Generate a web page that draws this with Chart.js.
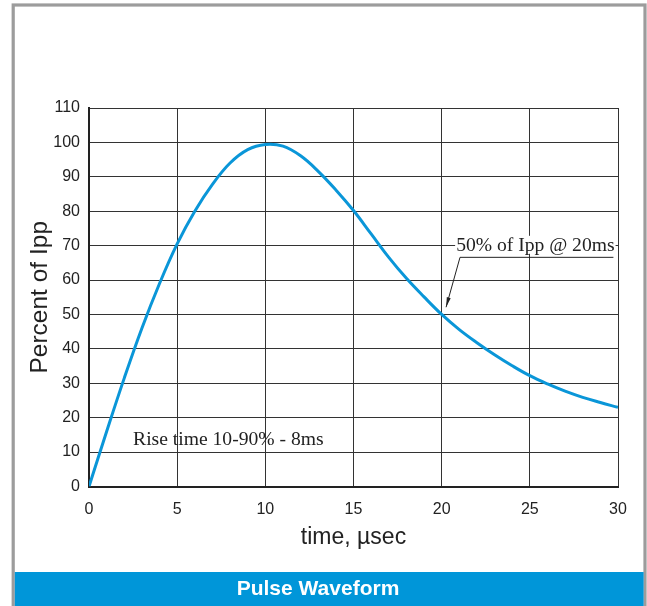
<!DOCTYPE html>
<html>
<head>
<meta charset="utf-8">
<script src="https://cdn.jsdelivr.net/npm/chart.js@4.4.1/dist/chart.umd.min.js"></script>
<style>
  html, body { margin: 0; padding: 0; background: #fff; }
  #wrap { position: relative; width: 647px; height: 606px; }
</style>
</head>
<body>
<div id="wrap"><canvas id="c" width="647" height="606"></canvas></div>
<script>
// ---- data ----
const times   = [0, 1, 2, 3, 4, 5, 6, 7, 8, 9, 10, 11, 12, 13, 14, 15, 16, 17, 18, 19, 20, 21, 22, 23, 24, 25, 26, 27, 28, 29, 30];
const percent = [0, 16, 31.5, 46, 59, 70.5, 80, 87.8, 94, 97.9, 99.4, 98.9, 96.1, 91.6, 86.2, 80.2, 73.4, 66.6, 60.5, 55.1, 50, 45.6, 41.8, 38.3, 35.1, 32.2, 29.8, 27.7, 25.9, 24.4, 23];
const xTicks = [0, 5, 10, 15, 20, 25, 30];
const yTicks = [0, 10, 20, 30, 40, 50, 60, 70, 80, 90, 100, 110];
const xTitle = 'time, \u00b5sec';
const yTitle = 'Percent of Ipp';
const chartTitle = 'Pulse Waveform';
const riseNote = 'Rise time 10-90% - 8ms';
const halfNote = '50% of Ipp @ 20ms';

const points = times.map((t, i) => ({ x: t, y: percent[i] }));

const framePlugin = {
  id: 'frame',
  beforeDraw(chart) {
    const ctx = chart.ctx;
    ctx.save();
    ctx.fillStyle = '#ffffff';
    ctx.fillRect(0, 0, chart.width, chart.height);
    // grey frame
    ctx.strokeStyle = '#9c9c9c';
    ctx.lineWidth = 3.2;
    ctx.strokeRect(13.2, 5, 631.8, 640);
    // blue title bar
    ctx.fillStyle = '#0096d9';
    ctx.fillRect(14.8, 572, 628.8, 40);
    ctx.restore();
  }
};

const notesPlugin = {
  id: 'notes',
  afterDraw(chart) {
    const ctx = chart.ctx;
    const xs = chart.scales.x, ys = chart.scales.y;
    const px = v => xs.getPixelForValue(v);
    const py = v => ys.getPixelForValue(v);
    ctx.save();
    ctx.font = '19.6px "Liberation Serif", "Times New Roman", serif';
    ctx.textBaseline = 'alphabetic';
    ctx.textAlign = 'left';
    ctx.fillStyle = '#222';
    // rise time note
    ctx.fillText(riseNote, px(2.5), py(12.1));
    // 50% note with white background
    const tx = px(20.82), ty = py(68.5);
    const w = ctx.measureText(halfNote).width;
    ctx.fillStyle = '#ffffff';
    ctx.fillRect(tx - 1, ty - 15, w + 2, 18);
    ctx.fillStyle = '#222';
    ctx.fillText(halfNote, tx, ty);
    // underline + leader + arrow
    const ux0 = px(21.04), uy = py(66.6), ux1 = px(29.74);
    const ax = px(20.25), ay = py(52.1);
    ctx.strokeStyle = '#222';
    ctx.lineWidth = 1;
    ctx.beginPath();
    ctx.moveTo(ux1, uy);
    ctx.lineTo(ux0, uy);
    ctx.lineTo(ax, ay);
    ctx.stroke();
    const ang = Math.atan2(ay - uy, ax - ux0);
    const L = 10, hw = 2;
    const bx = ax - L * Math.cos(ang), by = ay - L * Math.sin(ang);
    ctx.fillStyle = '#222';
    ctx.beginPath();
    ctx.moveTo(ax, ay);
    ctx.lineTo(bx + hw * Math.sin(ang), by - hw * Math.cos(ang));
    ctx.lineTo(bx - hw * Math.sin(ang), by + hw * Math.cos(ang));
    ctx.closePath();
    ctx.fill();
    ctx.restore();
  }
};

const tickFont = { family: '"Liberation Sans", Arial, sans-serif', size: 16 };
const titleFont = { family: '"Liberation Sans", Arial, sans-serif', size: 23 };
const yTitleFont = { family: '"Liberation Sans", Arial, sans-serif', size: 24.5 };

new Chart(document.getElementById('c'), {
  type: 'scatter',
  data: {
    datasets: [{
      data: points,
      showLine: true,
      borderColor: '#0a96d8',
      borderWidth: 3,
      pointRadius: 0,
      fill: false,
      tension: 0.4
    }]
  },
  options: {
    responsive: false,
    animation: false,
    devicePixelRatio: 1,
    layout: { padding: { top: 108, left: 18, right: 29, bottom: 0 } },
    plugins: {
      legend: { display: false },
      tooltip: { enabled: false },
      title: {
        display: true,
        position: 'bottom',
        text: chartTitle,
        color: '#ffffff',
        font: { family: '"Liberation Sans", Arial, sans-serif', size: 21, weight: 'bold' },
        padding: { top: 8, bottom: 4 }
      }
    },
    scales: {
      x: {
        type: 'linear',
        min: 0, max: 30,
        afterBuildTicks: s => { s.ticks = xTicks.map(v => ({ value: v })); },
        afterFit: s => { s.height = 82.3; },
        ticks: { color: '#222', font: tickFont, padding: 13, maxRotation: 0 },
        grid: { color: '#333', lineWidth: 1, drawTicks: false },
        border: { color: '#222', width: 2 },
        title: { display: true, text: xTitle, color: '#222', font: titleFont, padding: { top: 5, bottom: 17 } }
      },
      y: {
        type: 'linear',
        min: 0, max: 110,
        afterBuildTicks: s => { s.ticks = yTicks.map(v => ({ value: v })); },
        afterFit: s => { s.width = 71; },
        ticks: { color: '#222', font: tickFont, padding: 9 },
        grid: { color: '#333', lineWidth: 1, drawTicks: false },
        border: { color: '#222', width: 2 },
        title: { display: true, text: yTitle, color: '#222', font: yTitleFont, padding: { top: 8, bottom: 0 } }
      }
    }
  },
  plugins: [framePlugin, notesPlugin]
});
</script>
</body>
</html>
